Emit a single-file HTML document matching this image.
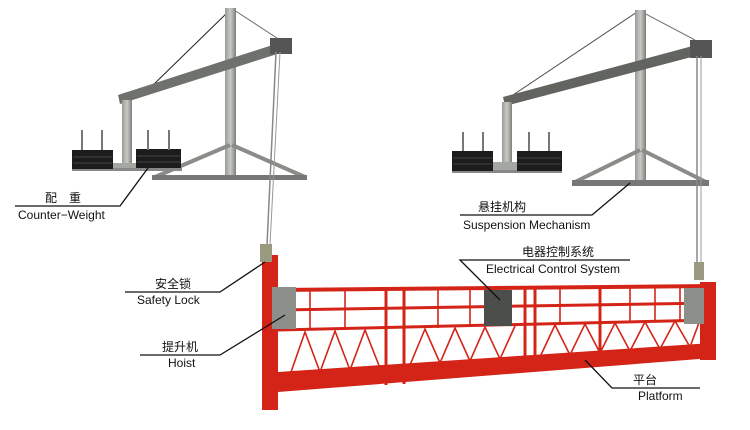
<!DOCTYPE html>
<html><head><meta charset="utf-8"><style>
body{margin:0;background:#fff;}
svg{display:block;}
text{font-family:"Liberation Sans","Noto Sans CJK SC",sans-serif;fill:#111;}
</style></head><body>
<svg width="750" height="430" viewBox="0 0 750 430" xmlns="http://www.w3.org/2000/svg">
<defs>
<linearGradient id="m" x1="0" x2="1"><stop offset="0" stop-color="#9a9c98"/><stop offset=".5" stop-color="#c8cac6"/><stop offset="1" stop-color="#7d7f7b"/></linearGradient>
</defs>
<!-- LEFT suspension -->
<g>
<line x1="150" y1="88" x2="230" y2="10" stroke="#222" stroke-width="1"/>
<line x1="234" y1="10" x2="280" y2="40" stroke="#666" stroke-width="1"/>
<rect x="225" y="8" width="11" height="172" fill="url(#m)"/>
<polygon points="118,95 288,40 290,50 120,104" fill="#6f716d"/>
<rect x="270" y="38" width="22" height="16" fill="#555"/>
<rect x="122" y="100" width="10" height="68" fill="url(#m)"/>
<polygon points="112,163 142,163 148,170 106,170" fill="#a5a7a3"/>
<line x1="155" y1="177" x2="230" y2="145" stroke="#8a8c88" stroke-width="4"/>
<line x1="232" y1="145" x2="305" y2="177" stroke="#8a8c88" stroke-width="4"/>
<rect x="152" y="175" width="155" height="5" fill="#777"/>
<rect x="72" y="168" width="110" height="3" fill="#888"/>
<rect x="72" y="150" width="41" height="19" fill="#1c1c1c"/>
<rect x="136" y="149" width="45" height="19" fill="#1c1c1c"/>
<line x1="73" y1="157" x2="112" y2="157" stroke="#444"/><line x1="73" y1="163" x2="112" y2="163" stroke="#444"/>
<line x1="137" y1="156" x2="180" y2="156" stroke="#444"/><line x1="137" y1="162" x2="180" y2="162" stroke="#444"/>
<line x1="82" y1="130" x2="82" y2="150" stroke="#777" stroke-width="2"/><line x1="102" y1="130" x2="102" y2="150" stroke="#777" stroke-width="2"/>
<line x1="148" y1="130" x2="148" y2="150" stroke="#777" stroke-width="2"/><line x1="169" y1="130" x2="169" y2="150" stroke="#777" stroke-width="2"/>
<line x1="276" y1="52" x2="267" y2="245" stroke="#888" stroke-width="1.5"/>
<line x1="280" y1="52" x2="270" y2="245" stroke="#999" stroke-width="1"/>
</g>
<!-- RIGHT suspension -->
<g>
<line x1="510" y1="97" x2="637" y2="12" stroke="#444" stroke-width="1"/>
<line x1="642" y1="12" x2="695" y2="40" stroke="#777" stroke-width="1"/>
<rect x="635" y="10" width="11" height="175" fill="url(#m)"/>
<polygon points="503,97 700,44 703,54 505,106" fill="#62645f"/>
<rect x="690" y="40" width="22" height="18" fill="#555"/>
<rect x="502" y="102" width="10" height="64" fill="url(#m)"/>
<polygon points="493,162 520,162 526,171 488,171" fill="#a5a7a3"/>
<line x1="575" y1="182" x2="640" y2="150" stroke="#8a8c88" stroke-width="4"/>
<line x1="642" y1="150" x2="706" y2="182" stroke="#8a8c88" stroke-width="4"/>
<rect x="572" y="180" width="137" height="6" fill="#777"/>
<rect x="452" y="170" width="110" height="3" fill="#888"/>
<rect x="452" y="151" width="41" height="20" fill="#1c1c1c"/>
<rect x="517" y="151" width="45" height="20" fill="#1c1c1c"/>
<line x1="453" y1="158" x2="492" y2="158" stroke="#444"/><line x1="453" y1="164" x2="492" y2="164" stroke="#444"/>
<line x1="518" y1="158" x2="561" y2="158" stroke="#444"/><line x1="518" y1="164" x2="561" y2="164" stroke="#444"/>
<line x1="463" y1="132" x2="463" y2="151" stroke="#777" stroke-width="2"/><line x1="483" y1="132" x2="483" y2="151" stroke="#777" stroke-width="2"/>
<line x1="529" y1="132" x2="529" y2="151" stroke="#777" stroke-width="2"/><line x1="549" y1="132" x2="549" y2="151" stroke="#777" stroke-width="2"/>
<line x1="697" y1="56" x2="697" y2="268" stroke="#888" stroke-width="1.5"/>
<line x1="701" y1="56" x2="701" y2="268" stroke="#999" stroke-width="1"/>
</g>
<!-- PLATFORM -->
<g stroke="#d42418" fill="none">
<path d="M278 290 L712 286" stroke-width="4"/>
<path d="M278 310 L712 303" stroke-width="3"/>
<path d="M278 330 L712 320" stroke-width="3"/>
<polygon points="278,372 712,343 712,358 278,392" fill="#d42418" stroke="none"/>
<g stroke-width="3">
<line x1="386" y1="288" x2="386" y2="385"/><line x1="404" y1="288" x2="404" y2="384"/>
<line x1="535" y1="287" x2="535" y2="364"/><line x1="600" y1="287" x2="600" y2="358"/>
<line x1="525" y1="287" x2="525" y2="365"/>
</g>
<g stroke-width="1.6">
<line x1="310" y1="290" x2="310" y2="330"/><line x1="345" y1="289" x2="345" y2="330"/>
<line x1="438" y1="288" x2="438" y2="328"/><line x1="470" y1="288" x2="470" y2="327"/>
<line x1="560" y1="287" x2="560" y2="324"/><line x1="630" y1="287" x2="630" y2="322"/>
<line x1="655" y1="286" x2="655" y2="321"/><line x1="680" y1="286" x2="680" y2="320"/>
<path d="M290 375 L305 332 L320 372 L335 331 L350 370 L365 330 L380 368"/>
<path d="M410 365 L425 329 L440 363 L455 328 L470 361 L485 327 L500 359 L515 326"/>
<path d="M540 357 L555 325 L570 355 L585 324 L600 353 L615 323 L630 351 L645 322 L660 349 L675 321 L690 347 L700 320"/>
</g>
</g>
<rect x="262" y="255" width="16" height="155" fill="#d42418"/>
<rect x="700" y="282" width="16" height="78" fill="#d42418"/>
<rect x="272" y="287" width="24" height="42" fill="#8d8f8b"/>
<rect x="684" y="288" width="20" height="36" fill="#8d8f8b"/>
<rect x="484" y="290" width="28" height="36" fill="#4c4e4b"/>
<rect x="260" y="244" width="12" height="18" fill="#9a9a80"/>
<rect x="694" y="262" width="10" height="18" fill="#9a9a80"/>
<!-- LABELS -->
<g stroke="#111" stroke-width="1.3" fill="none">
<polyline points="15,206 120,206 148,168"/>
<polyline points="460,215 592,215 630,183"/>
<polyline points="500,300 460,260 630,260"/>
<polyline points="125,292 220,292 265,262"/>
<polyline points="140,355 220,355 285,315"/>
<polyline points="585,360 612,388 700,388"/>
</g>
<g font-size="12">
<text x="45" y="202">配　重</text>
<text x="18" y="219">Counter−Weight</text>
<text x="478" y="211">悬挂机构</text>
<text x="463" y="229">Suspension Mechanism</text>
<text x="522" y="256">电器控制系统</text>
<text x="486" y="273">Electrical Control System</text>
<text x="155" y="288">安全锁</text>
<text x="137" y="304">Safety Lock</text>
<text x="162" y="351">提升机</text>
<text x="168" y="367">Hoist</text>
<text x="633" y="384">平台</text>
<text x="638" y="400">Platform</text>
</g>
</svg>
</body></html>
